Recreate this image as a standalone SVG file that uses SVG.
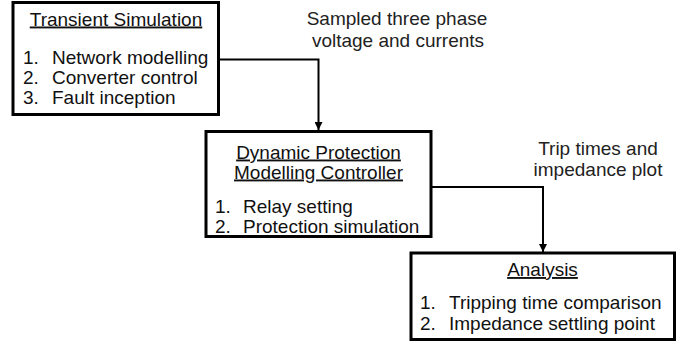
<svg xmlns="http://www.w3.org/2000/svg" width="686" height="345" viewBox="0 0 686 345">
<style>
text { font-family: "Liberation Sans", Arial, sans-serif; font-size: 19px; fill: #111; }
.title { text-anchor: middle; text-decoration: underline; }
.lbl { text-anchor: middle; fill: #222; }
.box { fill: #fff; stroke: #000; stroke-width: 3; }
.conn { fill: none; stroke: #000; stroke-width: 2; }
</style>
<defs>
<marker id="arrow" viewBox="0 0 10 10" refX="10" refY="5" markerWidth="4" markerHeight="4" orient="auto" markerUnits="strokeWidth">
<path d="M0,0 L10,5 L0,10 z" fill="#000"/>
</marker>
</defs>
<rect width="686" height="345" fill="#fff"/>
<g id="connectors">
<path class="conn" d="M219,59.5 H318.5 V130" marker-end="url(#arrow)"/>
<path class="conn" d="M431,187 H543 V252" marker-end="url(#arrow)"/>
</g>
<g id="labels">
<text class="lbl" x="397" y="25">Sampled three phase</text>
<text class="lbl" x="398" y="47">voltage and currents</text>
<text class="lbl" x="598" y="155">Trip times and</text>
<text class="lbl" x="598" y="176">impedance plot</text>
</g>
<g id="transient">
<rect class="box" x="13" y="2.5" width="205.5" height="112"/>
<text class="title" x="116" y="25.5">Transient Simulation</text>
<text x="23" y="63.5">1.</text><text x="52" y="63.5">Network modelling</text>
<text x="23" y="83.5">2.</text><text x="52" y="83.5">Converter control</text>
<text x="23" y="103.5">3.</text><text x="52" y="103.5">Fault inception</text>
</g>
<g id="dynamic">
<rect class="box" x="206" y="131.5" width="225" height="105"/>
<text class="title" x="318.5" y="158.5">Dynamic Protection</text>
<text class="title" x="318.5" y="178.5">Modelling Controller</text>
<text x="215" y="212.5">1.</text><text x="243" y="212.5">Relay setting</text>
<text x="215" y="232.5">2.</text><text x="243" y="232.5">Protection simulation</text>
</g>
<g id="analysis">
<rect class="box" x="411" y="253" width="263.5" height="86.5"/>
<text class="title" x="542.5" y="276">Analysis</text>
<text x="420" y="309">1.</text><text x="449" y="309">Tripping time comparison</text>
<text x="420" y="330">2.</text><text x="449" y="330">Impedance settling point</text>
</g>
</svg>
